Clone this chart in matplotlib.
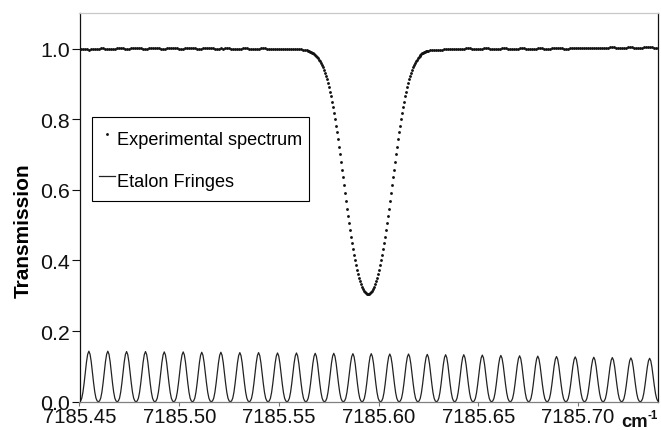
import numpy as np
import matplotlib
matplotlib.use("Agg")
import matplotlib.pyplot as plt

plt.rcParams['font.family'] = ['Liberation Sans', 'DejaVu Sans']

# ---------------- data ----------------
# Experimental spectrum: left baseline (step 0.001 cm-1)
spec_left_start = 7185.450
spec_left_step = 0.001
spec_left = [
    0.997, 0.998, 0.999, 0.999, 0.998, 0.997, 0.998, 0.998, 0.999,
    0.999, 1.000, 1.001, 1.001, 1.000, 0.999, 0.999, 0.999, 1.000,
    1.000, 1.001, 1.001, 1.002, 1.001, 1.000, 1.000, 1.000, 1.001,
    1.001, 1.002, 1.002, 1.002, 1.001, 1.000, 1.000, 1.000, 1.001,
    1.001, 1.002, 1.002, 1.002, 1.001, 1.000, 1.000, 1.000, 1.001,
    1.001, 1.002, 1.002, 1.002, 1.001, 1.000, 1.000, 1.000, 1.001,
    1.001, 1.002, 1.002, 1.002, 1.001, 1.000, 1.000, 1.000, 1.001,
    1.001, 1.002, 1.002, 1.002, 1.001, 1.000, 1.000, 1.000, 1.001,
    1.000, 1.001, 1.001, 1.001, 1.000, 0.999, 0.999, 0.999, 1.000,
    1.000, 1.001, 1.001, 1.001, 1.000, 0.999, 0.999, 0.999, 1.000,
    1.000, 1.001, 1.001, 1.001, 1.000, 0.999, 0.999, 0.999, 1.000,
    0.999, 1.000, 1.000, 1.000, 0.999, 0.998, 0.998, 0.998, 0.999,
    0.998, 0.999, 0.998, 0.998, 0.997, 0.997, 0.996,
]
# Absorption dip (step 0.0005 cm-1)
spec_dip_start = 7185.5645
spec_dip_step = 0.0005
spec_dip = [
    0.993, 0.992, 0.991, 0.990, 0.988, 0.987, 0.985, 0.982, 0.980, 0.977,
    0.973, 0.969, 0.965, 0.960, 0.954, 0.947, 0.940, 0.932, 0.923, 0.913,
    0.903, 0.891, 0.878, 0.865, 0.850, 0.834, 0.818, 0.800, 0.782, 0.763,
    0.743, 0.722, 0.701, 0.679, 0.657, 0.635, 0.613, 0.591, 0.569, 0.547,
    0.526, 0.506, 0.486, 0.467, 0.449, 0.432, 0.415, 0.400, 0.386, 0.373,
    0.361, 0.350, 0.341, 0.332, 0.325, 0.319, 0.314, 0.310, 0.307, 0.306,
    0.305,
    0.306, 0.307, 0.310, 0.314, 0.319, 0.325, 0.332, 0.341, 0.350, 0.361,
    0.373, 0.386, 0.400, 0.415, 0.432, 0.449, 0.467, 0.486, 0.506, 0.526,
    0.547, 0.569, 0.591, 0.613, 0.635, 0.657, 0.679, 0.701, 0.722, 0.743,
    0.763, 0.782, 0.800, 0.818, 0.834, 0.850, 0.865, 0.878, 0.891, 0.903,
    0.913, 0.923, 0.932, 0.940, 0.947, 0.954, 0.960, 0.965, 0.969, 0.973,
    0.977, 0.980, 0.982, 0.985, 0.987, 0.988, 0.990, 0.991, 0.992, 0.993,
]
# Right baseline (step 0.001 cm-1)
spec_right_start = 7185.625
spec_right_step = 0.001
spec_right = [
    0.994, 0.995, 0.995, 0.996, 0.996, 0.997, 0.997, 0.997, 0.998,
    0.998, 0.999, 0.999, 1.000, 0.999, 0.998, 0.998, 0.998, 1.000,
    1.000, 1.001, 1.001, 1.001, 1.000, 0.999, 0.999, 0.999, 1.000,
    1.000, 1.001, 1.001, 1.001, 1.000, 0.999, 0.999, 0.999, 1.000,
    1.000, 1.001, 1.001, 1.001, 1.000, 0.999, 0.999, 0.999, 1.000,
    1.000, 1.001, 1.001, 1.001, 1.000, 0.999, 0.999, 0.999, 1.000,
    1.000, 1.001, 1.001, 1.001, 1.000, 1.000, 1.000, 1.000, 1.001,
    1.001, 1.002, 1.002, 1.002, 1.001, 1.000, 1.000, 1.000, 1.001,
    1.002, 1.003, 1.003, 1.003, 1.002, 1.001, 1.001, 1.001, 1.002,
    1.002, 1.003, 1.003, 1.003, 1.002, 1.001, 1.001, 1.001, 1.002,
    1.003, 1.004, 1.004, 1.004, 1.003, 1.002, 1.002, 1.002, 1.003,
    1.003, 1.004, 1.004, 1.004, 1.003, 1.002, 1.002, 1.002, 1.003,
    1.004, 1.005, 1.005, 1.005, 1.004, 1.003, 1.003, 1.003,
]

# Etalon fringes: peak positions (cm-1) and peak heights
fringe_peaks = [
    7185.4547, 7185.4642, 7185.4736, 7185.4831, 7185.4925, 7185.5020,
    7185.5113, 7185.5209, 7185.5304, 7185.5398, 7185.5493, 7185.5588,
    7185.5682, 7185.5775, 7185.5871, 7185.5963, 7185.6056, 7185.6150,
    7185.6244, 7185.6336, 7185.6427, 7185.6520, 7185.6613, 7185.6707,
    7185.6798, 7185.6892, 7185.6986, 7185.7079, 7185.7172, 7185.7265,
    7185.7359,
]
fringe_heights = [
    0.143, 0.143, 0.142, 0.142, 0.141, 0.141, 0.140, 0.140, 0.139, 0.139,
    0.138, 0.138, 0.137, 0.137, 0.136, 0.136, 0.135, 0.135, 0.134, 0.133,
    0.133, 0.132, 0.131, 0.130, 0.129, 0.128, 0.127, 0.126, 0.125, 0.124,
    0.123,
]
# one fringe period, normalised, from minimum through peak to minimum
fringe_profile = [0.0, 0.015, 0.07, 0.19, 0.37, 0.58, 0.79, 0.94, 1.0,
                  0.94, 0.79, 0.58, 0.37, 0.19, 0.07, 0.015, 0.0]

xticks = [7185.45, 7185.50, 7185.55, 7185.60, 7185.65, 7185.70]
xtick_labels = ['7185.45', '7185.50', '7185.55', '7185.60', '7185.65', '7185.70']
yticks = [0.0, 0.2, 0.4, 0.6, 0.8, 1.0]
ytick_labels = ['0.0', '0.2', '0.4', '0.6', '0.8', '1.0']

# ---------------- build series ----------------
sx = np.concatenate([
    spec_left_start + spec_left_step * np.arange(len(spec_left)),
    spec_dip_start + spec_dip_step * np.arange(len(spec_dip)),
    spec_right_start + spec_right_step * np.arange(len(spec_right)),
])
sy = np.concatenate([spec_left, spec_dip, spec_right])

peaks = np.array(fringe_peaks)
gaps = np.diff(peaks)
half_l = np.concatenate([[gaps[0]], gaps]) / 2
half_r = np.concatenate([gaps, [gaps[-1]]]) / 2
prof = np.array(fringe_profile)
phase = np.linspace(-0.5, 0.5, len(prof))
fx, fy = [], []
for i, (p, h, hl, hr) in enumerate(zip(peaks, fringe_heights, half_l, half_r)):
    xs = np.where(phase < 0, p + phase * 2 * hl, p + phase * 2 * hr)
    ys = h * prof
    if i > 0:
        xs, ys = xs[1:], ys[1:]
    fx.append(xs)
    fy.append(ys)
fx = np.concatenate(fx)
fy = np.concatenate(fy)

# ---------------- figure ----------------
fig = plt.figure(figsize=(6.61, 4.31), dpi=100)
ax = fig.add_axes([79.5 / 661, 28.3 / 431, (658 - 79.5) / 661, (402.7 - 14.3) / 431])

ax.plot(sx, sy, linestyle='none', marker='o', markersize=2.05,
        markeredgewidth=0, color='#111111', label='Experimental spectrum')
ax.plot(fx, fy, color='#222222', lw=0.9, label='Etalon Fringes')

ax.set_xlim(7185.45, 7185.7401)
ax.set_ylim(0.0, 1.1)
ax.set_xticks(xticks)
ax.set_xticklabels(xtick_labels)
ax.set_yticks(yticks)
ax.set_yticklabels(ytick_labels)

ax.tick_params(axis='y', direction='out', length=5.5, width=0.8, pad=1.5,
               labelsize=15.4, colors='#111111')
ax.tick_params(axis='x', direction='out', length=3.0, width=0.8, pad=1.1,
               labelsize=14.6, colors='#777777', labelcolor='#111111')

ax.spines['top'].set_color('#c8c8c8')
ax.spines['bottom'].set_color('#808080')
ax.spines['left'].set_color('#111111')
ax.spines['right'].set_color('#111111')
for s in ax.spines.values():
    s.set_linewidth(0.9)

ax.set_ylabel('Transmission', fontsize=15, fontweight='bold', va='center')
ax.yaxis.set_label_coords(-0.098, 0.442)

fig.text(621 / 661, 4.0 / 431, 'cm', fontsize=13.2, fontweight='bold',
         ha='left', va='baseline', color='#111111')
fig.text(648 / 661, 11.5 / 431, '-1', fontsize=8.3, fontweight='bold',
         ha='left', va='baseline', color='#111111')

leg = ax.legend(loc='upper left', bbox_to_anchor=((92 - 79.5) / 578.5, (402.7 - 118) / 388.4),
                borderaxespad=0, fontsize=13.1, handlelength=0.85, handleheight=2.0,
                handletextpad=0.1, borderpad=0.4, labelspacing=0.75,
                fancybox=False, frameon=True, framealpha=1, edgecolor='black',
                numpoints=1, markerscale=1.0)
leg.get_frame().set_linewidth(0.8)

fig.savefig('out.png', dpi=100)
